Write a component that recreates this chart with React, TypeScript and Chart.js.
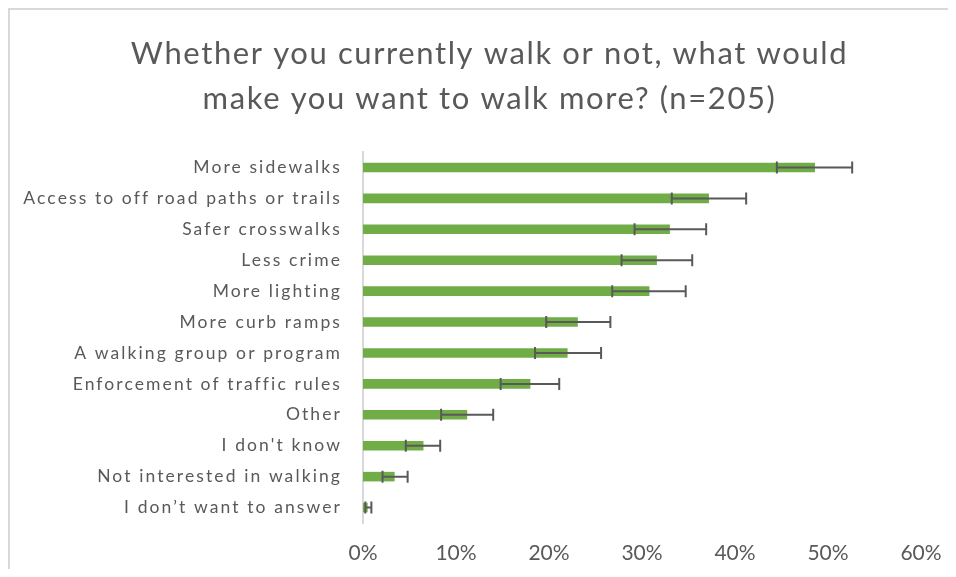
import React, { useEffect, useRef } from "react";
import { Chart, registerables } from "chart.js";

Chart.register(...registerables);

const categories = [
  "More sidewalks",
  "Access to off road paths or trails",
  "Safer crosswalks",
  "Less crime",
  "More lighting",
  "More curb ramps",
  "A walking group or program",
  "Enforcement of traffic rules",
  "Other",
  "I don't know",
  "Not interested in walking",
  "I don\u2019t want to answer",
];

const values = [48.6, 37.2, 33.0, 31.6, 30.8, 23.1, 22.0, 18.0, 11.2, 6.5, 3.4, 0.5];
const errorLow = [44.5, 33.2, 29.2, 27.8, 26.8, 19.7, 18.5, 14.8, 8.4, 4.6, 2.1, 0.25];
const errorHigh = [52.6, 41.2, 36.9, 35.4, 34.7, 26.6, 25.6, 21.1, 14.0, 8.3, 4.8, 0.9];

const xTicks = [0, 10, 20, 30, 40, 50, 60];

const titleLines = [
  "Whether you currently walk or not, what would",
  "make you want to walk more? (n=205)",
];

const errorBarsPlugin = {
  id: "errorBars",
  afterDatasetsDraw(chart: any) {
    const ctx = chart.ctx;
    const meta = chart.getDatasetMeta(0);
    const xs = chart.scales.x;
    ctx.save();
    ctx.strokeStyle = "#595959";
    ctx.lineWidth = 2;
    meta.data.forEach((bar: any, i: number) => {
      const y = bar.y;
      const x1 = xs.getPixelForValue(errorLow[i]);
      const x2 = xs.getPixelForValue(errorHigh[i]);
      ctx.beginPath();
      ctx.moveTo(x1, y);
      ctx.lineTo(x2, y);
      ctx.moveTo(x1, y - 6);
      ctx.lineTo(x1, y + 6);
      ctx.moveTo(x2, y - 6);
      ctx.lineTo(x2, y + 6);
      ctx.stroke();
    });
    ctx.restore();
  },
};

// Wraps text drawing of title and axes with a letter spacing (GDI-like wide text)
const spacingPlugin = {
  id: "spacing",
  afterUpdate(chart: any) {
    const wrap = (obj: any, method: string, spacing: string, dx: number) => {
      if (!obj || obj["__wrapped_" + method]) return;
      const orig = obj[method].bind(obj);
      obj[method] = (...args: any[]) => {
        const ctx = chart.ctx;
        ctx.save();
        ctx.translate(dx, 0);
        (ctx as any).letterSpacing = spacing;
        orig(...args);
        ctx.restore();
      };
      obj["__wrapped_" + method] = true;
    };
    // title centred on the whole chart box (right padding reserved for the axis)
    wrap(chart.titleBlock, "draw", "1.6px", 24);
    wrap(chart.scales.y, "drawLabels", "2.1px", 0);
  },
};

export default function App() {
  const ref = useRef<HTMLCanvasElement | null>(null);

  useEffect(() => {
    if (!ref.current) return;
    Chart.defaults.font.family = "Lato";
    Chart.defaults.color = "#595959";
    const chart = new Chart(ref.current, {
      type: "bar",
      data: {
        labels: categories,
        datasets: [
          {
            data: values,
            backgroundColor: "#70AD47",
            borderWidth: 0,
            barPercentage: 0.31,
            categoryPercentage: 1,
          },
        ],
      },
      options: {
        indexAxis: "y",
        animation: false,
        responsive: false,
        maintainAspectRatio: false,
        layout: { padding: { left: 0, right: 48, top: 0, bottom: 0 } },
        plugins: {
          legend: { display: false },
          tooltip: { enabled: false },
          title: {
            display: true,
            text: titleLines,
            color: "#595959",
            font: { family: "Lato", size: 31, weight: "normal", lineHeight: 45 / 31 },
            padding: { top: 21, bottom: 31 },
          },
        },
        scales: {
          x: {
            min: 0,
            max: 60,
            afterBuildTicks: (scale: any) => {
              scale.ticks = xTicks.map((v) => ({ value: v }));
            },
            afterFit: (scale: any) => {
              scale.height = 54;
            },
            grid: { display: false, drawTicks: false },
            border: { display: false },
            ticks: {
              padding: 18,
              color: "#595959",
              font: { family: "Lato", size: 21 },
              maxRotation: 0,
              callback: (v: any) => v + "%",
            },
          },
          y: {
            afterFit: (scale: any) => {
              scale.width = 353;
            },
            grid: { display: false, drawTicks: false },
            border: { display: true, color: "#d9d9d9", width: 2 },
            ticks: {
              padding: 21,
              color: "#595959",
              font: { family: "Lato", size: 17.5 },
              autoSkip: false,
            },
          },
        },
      },
      plugins: [spacingPlugin, errorBarsPlugin],
    } as any);
    chart.draw();
    return () => chart.destroy();
  }, []);

  return (
    <div
      style={{
        width: 948,
        height: 569,
        overflow: "hidden",
        marginBottom: -8,
        position: "relative",
        background: "#ffffff",
      }}
    >
      <div
        style={{
          borderTop: "2px solid #d9d9d9",
          borderLeft: "2px solid #d9d9d9",
          width: 1000,
          height: 600,
          background: "#ffffff",
        }}
      >
        <canvas ref={ref} width={959} height={567} style={{ display: "block" }} />
      </div>
    </div>
  );
}
